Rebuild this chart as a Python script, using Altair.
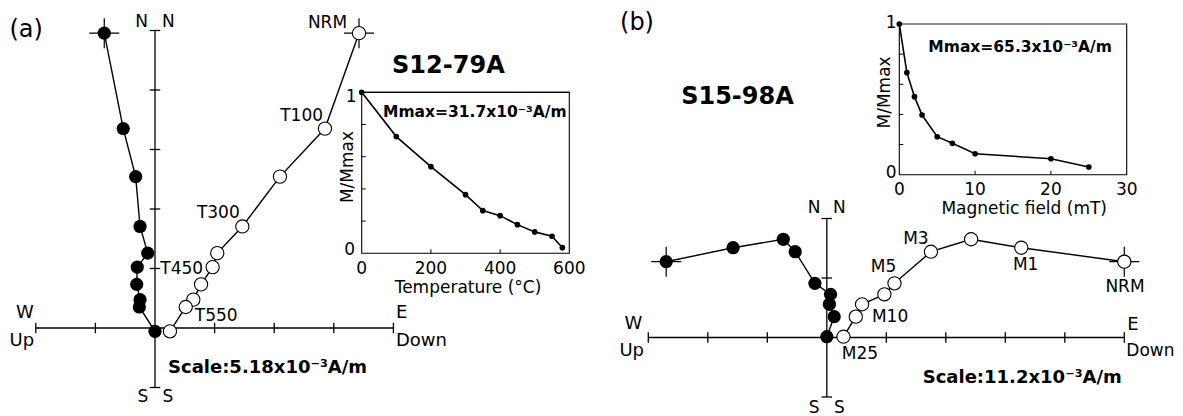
import altair as alt
import pandas as pd

FONT = "DejaVu Sans"

# ---------------- Panel (a): S12-79A, thermal demagnetization ----------------
a_steps = ["NRM", "T100", "T200", "T300", "T350", "T400", "T450", "T500", "T550", "T580"]
a_temp = [0, 100, 200, 300, 350, 400, 450, 500, 550, 580]
a_east = [-4.41, -2.76, -1.68, -1.30, -0.63, -1.54, -1.59, -1.30, -1.36, 0.00]
a_north = [25.67, 17.36, 13.18, 8.84, 6.52, 5.30, 3.80, 2.47, 1.83, -0.29]
a_down = [17.73, 14.77, 10.86, 7.59, 5.41, 5.01, 4.00, 3.33, 2.67, 1.30]
a_mnorm = [1.0, 0.725, 0.538, 0.364, 0.265, 0.234, 0.178, 0.133, 0.106, 0.035]
a_scale = 5.18
a_mmax = 31.7
a_ticks_x = [0, 200, 400, 600]

# ---------------- Panel (b): S15-98A, AF demagnetization ----------------
b_steps = ["NRM", "M1", "M2", "M3", "M5", "M7", "M10", "M20", "M25"]
b_field = [0, 1, 2, 3, 5, 7, 10, 20, 25]
b_east = [-30.23, -17.64, -8.19, -5.95, -2.24, 0.70, 0.49, 1.39, 0.00]
b_north = [14.27, 16.90, 18.49, 16.15, 10.20, 8.13, 6.25, 3.92, 0.15]
b_down = [56.0, 36.61, 27.16, 19.60, 12.74, 10.84, 6.64, 5.46, 3.14]
b_mnorm = [1.0, 0.677, 0.518, 0.396, 0.252, 0.208, 0.139, 0.106, 0.051]
b_scale = 11.2
b_mmax = 65.3
b_ticks_x = [0, 10, 20, 30]

inset_ticks_y = [0.2, 0.4, 0.6, 0.8]


def sc(domain, rng):
    return alt.Scale(domain=domain, range=rng, nice=False, zero=False)


def X(f, s):
    return alt.X(f, type="quantitative", scale=s, axis=None)


def Y(f, s):
    return alt.Y(f, type="quantitative", scale=s, axis=None)


def txt(text, x, y, xs, ys, size=17, bold=False, align="center", xo=0, yo=0, angle=0):
    df = pd.DataFrame({"x": [x], "y": [y], "t": [text]})
    mk = dict(font=FONT, fontSize=size, align=align, baseline="middle", color="black",
              xOffset=xo, yOffset=yo)
    if bold:
        mk["fontWeight"] = "bold"
    if angle:
        mk["angle"] = angle
    return alt.Chart(df).mark_text(**mk).encode(x=X("x", xs), y=Y("y", ys), text="t:N")


def zijderveld(east, north, down, s, kx0, kx1, ky0, ky1, xs, ys):
    L = []
    ax = pd.DataFrame({"x": [kx0 * s], "x2": [kx1 * s], "y": [0.0]})
    L.append(alt.Chart(ax).mark_rule(color="black", strokeWidth=1.3)
             .encode(x=X("x", xs), x2="x2", y=Y("y", ys)))
    ay = pd.DataFrame({"x": [0.0], "y": [ky0 * s], "y2": [ky1 * s]})
    L.append(alt.Chart(ay).mark_rule(color="black", strokeWidth=1.3)
             .encode(x=X("x", xs), y=Y("y", ys), y2="y2"))
    tx = pd.DataFrame({"x": [k * s for k in range(kx0, kx1 + 1) if k != 0], "y": 0.0})
    L.append(alt.Chart(tx).mark_point(shape="M0,-1V1", size=110, filled=False, stroke="black",
                                      strokeWidth=1.3, opacity=1)
             .encode(x=X("x", xs), y=Y("y", ys)))
    ty = pd.DataFrame({"y": [k * s for k in range(ky0, ky1 + 1) if k != 0], "x": 0.0})
    L.append(alt.Chart(ty).mark_point(shape="M-1,0H1", size=110, filled=False, stroke="black",
                                      strokeWidth=1.3, opacity=1)
             .encode(x=X("x", xs), y=Y("y", ys)))
    n = len(east)
    horiz = pd.DataFrame({"x": east, "y": north, "i": list(range(n))})
    vert = pd.DataFrame({"x": down, "y": north, "i": list(range(n))})
    cross = pd.DataFrame({"x": [east[0], down[0]], "y": [north[0], north[0]]})
    L.append(alt.Chart(cross).mark_point(shape="M-1,0H1M0,-1V1", size=900, filled=False,
                                         stroke="black", strokeWidth=1.2, opacity=1)
             .encode(x=X("x", xs), y=Y("y", ys)))
    for df in (vert, horiz):
        L.append(alt.Chart(df).mark_line(color="black", strokeWidth=1.4)
                 .encode(x=X("x", xs), y=Y("y", ys), order=alt.Order("i:Q")))
    L.append(alt.Chart(vert).mark_point(shape="circle", filled=True, fill="white", stroke="black",
                                        strokeWidth=1.1, size=175, opacity=1)
             .encode(x=X("x", xs), y=Y("y", ys)))
    L.append(alt.Chart(horiz).mark_point(shape="circle", filled=True, color="black",
                                         size=175, opacity=1)
             .encode(x=X("x", xs), y=Y("y", ys)))
    return L


def inset(xv, yv, xmax, xticks, xs, ys, top_color):
    L = []
    fr = pd.DataFrame({"x": [0], "x2": [xmax], "y": [0], "y2": [1]})
    L.append(alt.Chart(fr).mark_rect(fill="transparent", stroke="black", strokeWidth=1.1)
             .encode(x=X("x", xs), x2="x2", y=Y("y", ys), y2="y2"))
    topl = pd.DataFrame({"x": [0], "x2": [xmax], "y": [1]})
    L.append(alt.Chart(topl).mark_rule(color=top_color, strokeWidth=1.2)
             .encode(x=X("x", xs), x2="x2", y=Y("y", ys)))
    tyd = pd.DataFrame({"x": 0.0, "y": inset_ticks_y})
    L.append(alt.Chart(tyd).mark_point(shape="M0,0H2", size=16, filled=False, stroke="black",
                                       strokeWidth=1, opacity=1)
             .encode(x=X("x", xs), y=Y("y", ys)))
    txd = pd.DataFrame({"x": xticks[1:-1], "y": 0.0})
    L.append(alt.Chart(txd).mark_point(shape="M0,0V-2", size=16, filled=False, stroke="black",
                                       strokeWidth=1, opacity=1)
             .encode(x=X("x", xs), y=Y("y", ys)))
    d = pd.DataFrame({"x": xv, "y": yv})
    L.append(alt.Chart(d).mark_line(color="black", strokeWidth=1.6)
             .encode(x=X("x", xs), y=Y("y", ys)))
    L.append(alt.Chart(d).mark_point(shape="circle", filled=True, color="black", size=32, opacity=1)
             .encode(x=X("x", xs), y=Y("y", ys)))
    lab = pd.DataFrame({"x": xticks, "y": 0.0, "t": [str(v) for v in xticks]})
    L.append(alt.Chart(lab).mark_text(font=FONT, fontSize=17, align="center", baseline="middle",
                                      color="black", yOffset=15.5)
             .encode(x=X("x", xs), y=Y("y", ys), text="t:N"))
    return L


layers = []

# ---- (a) scales (pixel ranges place each panel) ----
axs = sc([-2 * a_scale, 4 * a_scale], [27.8, 385.4])
ays = sc([-a_scale, 5 * a_scale], [379.5, 22.5])
aixs = sc([0, 600], [353.7, 561.3])
aiys = sc([0, 1], [245.3, 84.3])

layers += zijderveld(a_east, a_north, a_down, a_scale, -2, 4, -1, 5, axs, ays)
s = a_scale
layers += [
    txt("W", -2 * s, 0, axs, ays, 18, xo=-11, yo=-15),
    txt("Up", -2 * s, 0, axs, ays, 18, xo=-14, yo=13),
    txt("E", 4 * s, 0, axs, ays, 18, align="left", xo=2.5, yo=-15),
    txt("Down", 4 * s, 0, axs, ays, 18, align="left", xo=2.5, yo=13),
    txt("N", 0, 5 * s, axs, ays, 17, xo=-13.3, yo=-9),
    txt("N", 0, 5 * s, axs, ays, 17, xo=13.3, yo=-9),
    txt("S", 0, -s, axs, ays, 17, xo=-12, yo=9),
    txt("S", 0, -s, axs, ays, 17, xo=13, yo=9),
    txt("Scale:5.18x10⁻³A/m", 0, 0, axs, ays, 18, bold=True, align="left", xo=13, yo=40),
    txt("(a)", -2 * s, 5 * s, axs, ays, 24, xo=-9.7, yo=-0.5),
    txt("S12-79A", 4 * s, 5 * s, axs, ays, 24, bold=True, xo=55, yo=35.5),
    txt("NRM", a_down[0], a_north[0], axs, ays, 17, xo=-31.5, yo=-10.3),
    txt("T100", a_down[1], a_north[1], axs, ays, 17, xo=-23.3, yo=-12.7),
    txt("T300", a_down[3], a_north[3], axs, ays, 17, xo=-24, yo=-13.5),
    txt("T450", a_down[6], a_north[6], axs, ays, 17, xo=-19.3, yo=-15),
    txt("T550", a_down[8], a_north[8], axs, ays, 17, xo=30.5, yo=9.3),
]
layers += inset(a_temp, a_mnorm, 600, a_ticks_x, aixs, aiys, "black")
layers += [
    txt("Mmax=31.7x10⁻³A/m", 0, 1, aixs, aiys, 15.5, bold=True, align="left", xo=21.3, yo=19.4),
    txt("M/Mmax", 0, 0.5, aixs, aiys, 17, angle=270, xo=-14, yo=-5.8),
    txt("1", 0, 1, aixs, aiys, 17, align="right", xo=-5, yo=4.4),
    txt("0", 0, 0, aixs, aiys, 17, align="right", xo=-6.7, yo=-3.3),
    txt("Temperature (°C)", 300, 0, aixs, aiys, 17, xo=2.5, yo=34.5),
]

# ---- (b) scales ----
bxs = sc([-3 * b_scale, 5 * b_scale], [640.3, 1116.3])
bys = sc([-b_scale, 2 * b_scale], [389.0, 210.5])
bixs = sc([0, 30], [891.3, 1118.7])
biys = sc([0, 1], [166.7, 16.0])

layers += zijderveld(b_east, b_north, b_down, b_scale, -3, 5, -1, 2, bxs, bys)
s = b_scale
layers += [
    txt("W", -3 * s, 0, bxs, bys, 18, xo=-15, yo=-13.5),
    txt("Up", -3 * s, 0, bxs, bys, 18, xo=-16.6, yo=13.5),
    txt("E", 5 * s, 0, bxs, bys, 18, align="left", xo=3, yo=-13),
    txt("Down", 5 * s, 0, bxs, bys, 17, align="left", xo=2, yo=13.5),
    txt("N", 0, 2 * s, bxs, bys, 17, xo=-12.6, yo=-11),
    txt("N", 0, 2 * s, bxs, bys, 17, xo=12.6, yo=-11),
    txt("S", 0, -s, bxs, bys, 17, xo=-12.6, yo=11),
    txt("S", 0, -s, bxs, bys, 17, xo=12.6, yo=11),
    txt("Scale:11.2x10⁻³A/m", 0, 0, bxs, bys, 18, bold=True, align="left", xo=95.9, yo=40.5),
    txt("(b)", -3 * s, 2 * s, bxs, bys, 24, xo=-11.3, yo=-195.5),
    txt("S15-98A", 0, 2 * s, bxs, bys, 24, bold=True, xo=-89.3, yo=-121.5),
    txt("NRM", b_down[0], b_north[0], bxs, bys, 17, xo=0.7, yo=25.8),
    txt("M1", b_down[1], b_north[1], bxs, bys, 17, xo=4.4, yo=17.3),
    txt("M3", b_down[3], b_north[3], bxs, bys, 17, xo=-15, yo=-12.7),
    txt("M5", b_down[4], b_north[4], bxs, bys, 17, xo=-11, yo=-16.6),
    txt("M10", b_down[6], b_north[6], bxs, bys, 17, xo=28, yo=12.4),
    txt("M25", b_down[8], b_north[8], bxs, bys, 17, xo=16.5, yo=17.3),
]
layers += inset(b_field, b_mnorm, 30, b_ticks_x, bixs, biys, "#9a9a9a")
layers += [
    txt("Mmax=65.3x10⁻³A/m", 0, 1, bixs, biys, 15.5, bold=True, align="left", xo=29, yo=22.7),
    txt("M/Mmax", 0, 0.5, bixs, biys, 17, angle=270, xo=-14.3, yo=-6.9),
    txt("1", 0, 1, bixs, biys, 17, align="right", xo=-2.6, yo=-0.7),
    txt("0", 0, 0, bixs, biys, 17, align="right", xo=-2.6, yo=-1.4),
    txt("Magnetic field (mT)", 15, 0, bixs, biys, 17, xo=11.2, yo=34),
]

chart = (
    alt.layer(*layers)
    .resolve_scale(x="independent", y="independent")
    .properties(width=1167, height=408, autosize=alt.AutoSizeParams(type="none"),
                padding=0, background="white")
    .configure_view(strokeWidth=0)
)

chart.save("out.html", embed_options={"renderer": "svg", "actions": False})
